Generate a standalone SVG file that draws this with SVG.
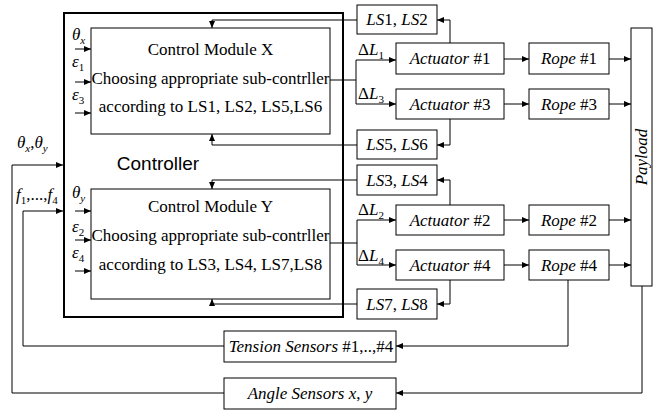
<svg xmlns="http://www.w3.org/2000/svg" width="661" height="416" viewBox="0 0 661 416">
<defs>
<marker id="ah" markerUnits="userSpaceOnUse" markerWidth="7" markerHeight="6" refX="7" refY="3" orient="auto">
<path d="M0,0 L7,3 L0,6 z" fill="#000"/>
</marker>
<style>
.box{fill:#fff;stroke:#000;stroke-width:1}
.outer{fill:none;stroke:#000;stroke-width:2}
.ln{fill:none;stroke:#000;stroke-width:1}
.ar{fill:none;stroke:#000;stroke-width:1;marker-end:url(#ah)}
text{font-family:"Liberation Serif","Times New Roman",serif;font-size:17px;fill:#000}
.c{text-anchor:middle}
.i{font-style:italic}
.sub{font-size:11px}
.sans{font-family:"Liberation Sans",Arial,sans-serif;font-size:19px}
</style>
</defs>
<rect width="661" height="416" fill="#fff"/>

<g id="controller">
<rect class="outer" x="64" y="13" width="279" height="304"/>
<text class="sans c" x="158" y="170">Controller</text>
</g>

<g id="moduleX">
<rect class="box" x="91" y="28" width="239" height="106"/>
<text class="c" x="210.5" y="55">Control Module X</text>
<text class="c" x="210.5" y="84">Choosing appropriate sub-contrller</text>
<text class="c" x="210.5" y="112">according to LS1, LS2, LS5,LS6</text>
</g>

<g id="moduleY">
<rect class="box" x="91" y="189" width="239" height="110"/>
<text class="c" x="210.5" y="212">Control Module Y</text>
<text class="c" x="210.5" y="241">Choosing appropriate sub-contrller</text>
<text class="c" x="210.5" y="270">according to LS3, LS4, LS7,LS8</text>
</g>

<g id="ls12"><rect class="box" x="357" y="5" width="80" height="29"/><text class="c" x="397" y="25"><tspan class="i">LS</tspan>1, <tspan class="i">LS</tspan>2</text></g>
<g id="ls56"><rect class="box" x="357" y="130" width="80" height="29"/><text class="c" x="397" y="150"><tspan class="i">LS</tspan>5, <tspan class="i">LS</tspan>6</text></g>
<g id="ls34"><rect class="box" x="357" y="165" width="80" height="30"/><text class="c" x="397" y="186"><tspan class="i">LS</tspan>3, <tspan class="i">LS</tspan>4</text></g>
<g id="ls78"><rect class="box" x="357" y="289" width="80" height="30"/><text class="c" x="397" y="310"><tspan class="i">LS</tspan>7, <tspan class="i">LS</tspan>8</text></g>

<g id="act1"><rect class="box" x="396" y="43" width="108" height="31"/><text class="c" x="450" y="64"><tspan class="i">Actuator</tspan> #1</text></g>
<g id="act3"><rect class="box" x="396" y="89" width="108" height="30"/><text class="c" x="450" y="110"><tspan class="i">Actuator</tspan> #3</text></g>
<g id="act2"><rect class="box" x="396" y="205" width="108" height="30"/><text class="c" x="450" y="226"><tspan class="i">Actuator</tspan> #2</text></g>
<g id="act4"><rect class="box" x="396" y="250" width="108" height="30"/><text class="c" x="450" y="271"><tspan class="i">Actuator</tspan> #4</text></g>

<g id="rope1"><rect class="box" x="529" y="43" width="80" height="31"/><text class="c" x="569" y="64"><tspan class="i">Rope</tspan> #1</text></g>
<g id="rope3"><rect class="box" x="529" y="89" width="80" height="30"/><text class="c" x="569" y="110"><tspan class="i">Rope</tspan> #3</text></g>
<g id="rope2"><rect class="box" x="529" y="205" width="80" height="30"/><text class="c" x="569" y="226"><tspan class="i">Rope</tspan> #2</text></g>
<g id="rope4"><rect class="box" x="529" y="250" width="80" height="30"/><text class="c" x="569" y="271"><tspan class="i">Rope</tspan> #4</text></g>

<g id="payload"><rect class="box" x="631" y="28" width="21" height="258"/><text class="c i" transform="translate(647,157) rotate(-90)">Payload</text></g>

<g id="tension"><rect class="box" x="224" y="331" width="172" height="31"/><text class="c" x="311" y="352"><tspan class="i">Tension Sensors</tspan> #1,..,#4</text></g>
<g id="angle"><rect class="box" x="224" y="378" width="172" height="31"/><text class="c" x="310" y="399"><tspan class="i">Angle Sensors x</tspan>, <tspan class="i">y</tspan></text></g>

<g id="labels">
<text x="72" y="40"><tspan class="i">θ</tspan><tspan class="sub i" dy="4">x</tspan></text>
<text x="72" y="67"><tspan class="i">ε</tspan><tspan class="sub" dy="4">1</tspan></text>
<text x="72" y="100"><tspan class="i">ε</tspan><tspan class="sub" dy="4">3</tspan></text>
<text x="72" y="198"><tspan class="i">θ</tspan><tspan class="sub i" dy="4">y</tspan></text>
<text x="72" y="232"><tspan class="i">ε</tspan><tspan class="sub" dy="4">2</tspan></text>
<text x="72" y="258"><tspan class="i">ε</tspan><tspan class="sub" dy="4">4</tspan></text>
<text x="17" y="148"><tspan class="i">θ</tspan><tspan class="sub i" dy="4">x</tspan><tspan dy="-4">,</tspan><tspan class="i">θ</tspan><tspan class="sub i" dy="4">y</tspan></text>
<text x="16" y="200"><tspan class="i">f</tspan><tspan class="sub" dy="4">1</tspan><tspan dy="-4">,...,</tspan><tspan class="i">f</tspan><tspan class="sub" dy="4">4</tspan></text>
<text x="358" y="55">Δ<tspan class="i">L</tspan><tspan class="sub" dy="4">1</tspan></text>
<text x="358" y="99">Δ<tspan class="i">L</tspan><tspan class="sub" dy="4">3</tspan></text>
<text x="358" y="215">Δ<tspan class="i">L</tspan><tspan class="sub" dy="4">2</tspan></text>
<text x="358" y="261">Δ<tspan class="i">L</tspan><tspan class="sub" dy="4">4</tspan></text>
</g>

<g id="connectors">
<!-- inputs into modules -->
<path class="ar" d="M75,49 H91"/>
<path class="ar" d="M75,82 H91"/>
<path class="ar" d="M75,113 H91"/>
<path class="ar" d="M75,211 H91"/>
<path class="ar" d="M75,240 H91"/>
<path class="ar" d="M75,271 H91"/>
<!-- module outputs -->
<path class="ln" d="M330,80 H356 M356,60 V104"/>
<path class="ar" d="M356,60 H396"/>
<path class="ar" d="M356,104 H396"/>
<path class="ln" d="M330,243 H357 M357,220 V265"/>
<path class="ar" d="M357,220 H396"/>
<path class="ar" d="M357,265 H396"/>
<!-- actuator to rope, rope to payload -->
<path class="ar" d="M504,59 H529"/>
<path class="ar" d="M504,104 H529"/>
<path class="ar" d="M504,220 H529"/>
<path class="ar" d="M504,265 H529"/>
<path class="ar" d="M609,59 H631"/>
<path class="ar" d="M609,104 H631"/>
<path class="ar" d="M609,220 H631"/>
<path class="ar" d="M609,265 H631"/>
<!-- limit switches -->
<path class="ar" d="M450,43 V20 H437"/>
<path class="ar" d="M357,20 H212 V28"/>
<path class="ar" d="M450,119 V145 H437"/>
<path class="ar" d="M357,145 H212 V134"/>
<path class="ar" d="M450,205 V180 H437"/>
<path class="ar" d="M357,180 H212 V189"/>
<path class="ar" d="M450,280 V304 H437"/>
<path class="ar" d="M357,304 H212 V299"/>
<!-- sensors feedback -->
<path class="ar" d="M568,280 V346 H396"/>
<path class="ar" d="M224,346 H23 V211 H63"/>
<path class="ar" d="M642,286 V393 H396"/>
<path class="ar" d="M224,393 H12 V165 H63"/>
</g>
</svg>
